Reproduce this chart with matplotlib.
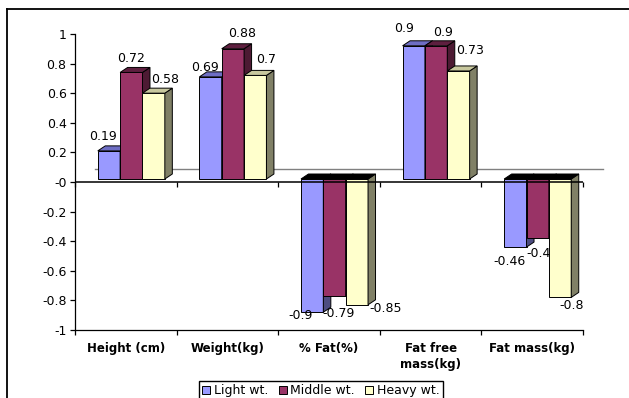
import matplotlib
matplotlib.use('Agg')
import matplotlib.pyplot as plt
from matplotlib.patches import Polygon, Patch
from matplotlib.lines import Line2D
from matplotlib.transforms import ScaledTranslation, IdentityTransform
import numpy as np

# Dados
categorias = ['Height (cm)', 'Weight(kg)', '% Fat(%)', 'Fat free\nmass(kg)', 'Fat mass(kg)']
series = ['Light wt.', 'Middle wt.', 'Heavy wt.']
light = [0.19, 0.69, -0.9, 0.9, -0.46]
middle = [0.72, 0.88, -0.79, 0.9, -0.4]
heavy = [0.58, 0.7, -0.85, 0.73, -0.8]
valores = [light, middle, heavy]

# Cores (frente, topo, lateral)
cores = ['#9999FF', '#993366', '#FFFFCC']
cores_topo = ['#6E6EC4', '#5E1F3F', '#C8C89E']
cores_lado = ['#4D4D80', '#4D1A33', '#808066']

# Deslocamentos 3D em pixels
DPI = 100
frente_dx, frente_dy = 5.5, 3.0     # frente das colunas
prof_dx, prof_dy = 7.5, 5.0         # profundidade de cada coluna
fundo_dx, fundo_dy = 20.0, 13.0     # borda de trás do piso

# Posição dos rótulos em relação à coluna (pixels)
ajuste_rotulos = [
    [(-6, 14), (-6, 9), (-12, -3), (-10, 17), (-6, -14)],
    [(0, 14), (9, 15), (4, -18), (7, 13), (1, -15)],
    [(11, 14), (11, 16), (29, -4), (12, 20), (12, -8)],
]

plt.rcParams['font.family'] = 'DejaVu Sans'
plt.rcParams['font.size'] = 9

fig = plt.figure(figsize=(6.29, 3.98), dpi=DPI)
ax = fig.add_axes([75 / 629, 68 / 398, 508 / 629, 296 / 398])
ax.set_xlim(0, 5)
ax.set_ylim(-1, 1)

desloc = ScaledTranslation(frente_dx / DPI, frente_dy / DPI, fig.dpi_scale_trans)
tr_frente = ax.transData + desloc

# Linha do fundo do piso
tr_fundo = ax.transData + ScaledTranslation(fundo_dx / DPI, fundo_dy / DPI, fig.dpi_scale_trans)
ax.plot([0, 5], [0, 0], color='#808080', lw=1.0, transform=tr_fundo, zorder=0.5, clip_on=False)

largura = 0.22
x = np.arange(len(categorias)) + 0.5

for j, vals in enumerate(valores):
    pos = x + (j - 1) * largura
    barras = ax.bar(pos, vals, width=largura, color=cores[j], edgecolor='black',
                    linewidth=0.7, transform=tr_frente, clip_on=False, zorder=1)
    for i, b in enumerate(barras):
        bb = b.get_window_extent()
        x0, x1, y0, y1 = bb.x0, bb.x1, bb.y0, bb.y1
        # face lateral
        lado = Polygon([(x1, y0), (x1, y1), (x1 + prof_dx, y1 + prof_dy), (x1 + prof_dx, y0 + prof_dy)],
                       closed=True, facecolor=cores_lado[j], edgecolor='black', linewidth=0.7,
                       transform=IdentityTransform(), zorder=1, clip_on=False)
        ax.add_patch(lado)
        # face de cima (preta nas colunas negativas)
        cor_t = cores_topo[j] if vals[i] >= 0 else '#000000'
        topo = Polygon([(x0, y1), (x1, y1), (x1 + prof_dx, y1 + prof_dy), (x0 + prof_dx, y1 + prof_dy)],
                       closed=True, facecolor=cor_t, edgecolor='black', linewidth=0.7,
                       transform=IdentityTransform(), zorder=1, clip_on=False)
        ax.add_patch(topo)
        dx, dy = ajuste_rotulos[j][i]
        ax.annotate('{:g}'.format(vals[i]), xy=(pos[i], vals[i]), xycoords=tr_frente,
                    xytext=(dx, dy), textcoords='offset pixels', ha='center', va='center',
                    fontsize=9, color='black', zorder=6, annotation_clip=False)

# Eixo horizontal no zero
ax.axhline(0, color='black', lw=1.1, zorder=5)
ax.plot(np.arange(6), np.zeros(6), ls='', marker=3, ms=3.6, mew=0.9, color='black',
        zorder=5, clip_on=False)

# Eixos
for lado in ['top', 'right']:
    ax.spines[lado].set_visible(False)
ax.spines['left'].set_linewidth(0.9)
ax.spines['bottom'].set_linewidth(0.9)

yt = np.round(np.arange(-1, 1.01, 0.2), 1)
ax.set_yticks(yt)
ax.set_yticklabels(['{:g}'.format(v) for v in yt])
ax.tick_params(axis='y', direction='out', length=3.6, width=0.9, pad=2.5, labelsize=9)

ax.set_xticks(np.arange(6))
ax.set_xticklabels([''] * 6)
ax.tick_params(axis='x', which='major', direction='out', length=3.6, width=0.9)
ax.set_xticks(x, minor=True)
ax.set_xticklabels(categorias, minor=True, fontweight='bold', fontsize=8.5, linespacing=1.3)
ax.tick_params(axis='x', which='minor', length=0, pad=8.5)

# Legenda
handles = [Patch(facecolor=c, edgecolor='black', linewidth=0.7) for c in cores]
fig.legend(handles, series, loc='upper center', bbox_to_anchor=(321 / 629, 1 - 380.5 / 398),
           ncol=3, frameon=True, fancybox=False, edgecolor='black', framealpha=1,
           handlelength=0.65, handleheight=0.65, handletextpad=0.3, columnspacing=0.8,
           borderpad=0.3, borderaxespad=0, fontsize=9)

# Moldura da área do gráfico
fig.add_artist(Line2D([7 / 629, 1], [1 - 9 / 398] * 2, transform=fig.transFigure,
                      color='black', lw=1.3))
fig.add_artist(Line2D([7 / 629] * 2, [0, 1 - 9 / 398], transform=fig.transFigure,
                      color='black', lw=1.3))

fig.savefig('out.png', dpi=DPI)
